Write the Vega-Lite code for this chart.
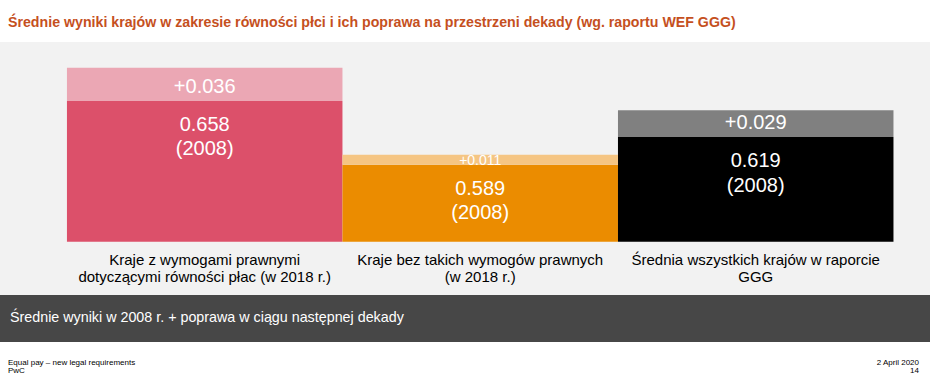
{
  "$schema": "https://vega.github.io/schema/vega-lite/v6.json",
  "background": "white",
  "padding": {"left": 0, "right": 0, "top": 15, "bottom": 0},
  "title": {
    "text": "Średnie wyniki krajów w zakresie równości płci i ich poprawa na przestrzeni dekady (wg. raportu WEF GGG)",
    "anchor": "start",
    "dx": 8,
    "offset": 12,
    "fontSize": 14.2,
    "fontWeight": "bold",
    "font": "Liberation Sans",
    "color": "#c5501e"
  },
  "spacing": 0,
  "vconcat": [
    {
      "width": 930,
      "height": 253,
      "view": {"fill": "#f2f2f2", "stroke": null},
      "data": {
        "values": [
          {"kraj": "Kraje z wymogami prawnymi\ndotyczącymi równości płac (w 2018 r.)", "wynik2008": 0.658, "poprawa": 0.036, "wynik2018": 0.694},
          {"kraj": "Kraje bez takich wymogów prawnych\n(w 2018 r.)", "wynik2008": 0.589, "poprawa": 0.011, "wynik2018": 0.600},
          {"kraj": "Średnia wszystkich krajów w raporcie\nGGG", "wynik2008": 0.619, "poprawa": 0.029, "wynik2018": 0.648}
        ]
      },
      "encoding": {
        "x": {
          "field": "kraj",
          "type": "nominal",
          "sort": null,
          "axis": null,
          "scale": {"paddingInner": 0, "paddingOuter": 0.1878, "align": 0.647}
        }
      },
      "layer": [
        {
          "mark": {"type": "bar"},
          "encoding": {
            "y": {
              "field": "wynik2008",
              "type": "quantitative",
              "scale": {"domain": [0.4484, 0.7217], "nice": false, "zero": false},
              "axis": {
                "title": "1.00 = pełna równość",
                "labels": false,
                "ticks": false,
                "domain": false,
                "grid": false,
                "minExtent": 0,
                "maxExtent": 0,
                "titleX": 20,
                "titleY": 114,
                "titleAngle": -90,
                "titleAlign": "center",
                "titleBaseline": "middle",
                "titleFontSize": 14,
                "titleFontWeight": "normal",
                "titleFont": "Liberation Sans",
                "titleColor": "#000000"
              }
            },
            "y2": {"datum": 0.506},
            "color": {
              "field": "kraj",
              "type": "nominal",
              "sort": null,
              "scale": {"range": ["#dc506a", "#eb8c00", "#000000"]},
              "legend": null
            }
          }
        },
        {
          "mark": {"type": "bar"},
          "encoding": {
            "y": {
              "field": "wynik2018",
              "type": "quantitative",
              "scale": {"domain": [0.4484, 0.7217], "nice": false, "zero": false},
              "axis": null
            },
            "y2": {"field": "wynik2008"},
            "fill": {
              "field": "kraj",
              "type": "nominal",
              "sort": null,
              "scale": {"range": ["#eba7b4", "#f5c583", "#808080"]},
              "legend": null
            }
          }
        },
        {
          "mark": {"type": "text", "baseline": "alphabetic", "dy": 30, "fontSize": 20, "color": "white", "font": "Liberation Sans"},
          "encoding": {
            "y": {"field": "wynik2008", "type": "quantitative", "scale": {"domain": [0.4484, 0.7217], "nice": false, "zero": false}, "axis": null},
            "text": {"field": "wynik2008", "type": "quantitative", "format": ".3f"}
          }
        },
        {
          "mark": {"type": "text", "baseline": "alphabetic", "dy": 54.5, "fontSize": 20, "color": "white", "font": "Liberation Sans"},
          "encoding": {
            "y": {"field": "wynik2008", "type": "quantitative", "scale": {"domain": [0.4484, 0.7217], "nice": false, "zero": false}, "axis": null},
            "text": {"value": "(2008)"}
          }
        },
        {
          "transform": [{"filter": "datum.poprawa >= 0.02"}],
          "mark": {"type": "text", "baseline": "alphabetic", "dy": -8, "fontSize": 20, "color": "white", "font": "Liberation Sans"},
          "encoding": {
            "y": {"field": "wynik2008", "type": "quantitative", "scale": {"domain": [0.4484, 0.7217], "nice": false, "zero": false}, "axis": null},
            "text": {"field": "poprawa", "type": "quantitative", "format": "+.3f"}
          }
        },
        {
          "transform": [{"filter": "datum.poprawa < 0.02"}],
          "mark": {"type": "text", "baseline": "alphabetic", "dy": 0, "fontSize": 14, "color": "white", "font": "Liberation Sans"},
          "encoding": {
            "y": {"field": "wynik2008", "type": "quantitative", "scale": {"domain": [0.4484, 0.7217], "nice": false, "zero": false}, "axis": null},
            "text": {"field": "poprawa", "type": "quantitative", "format": "+.3f"}
          }
        },
        {
          "mark": {"type": "text", "baseline": "alphabetic", "lineBreak": "\n", "lineHeight": 17, "fontSize": 15, "color": "#000000", "font": "Liberation Sans"},
          "encoding": {
            "y": {"datum": 0.4812, "type": "quantitative", "scale": {"domain": [0.4484, 0.7217], "nice": false, "zero": false}, "axis": null},
            "text": {"field": "kraj", "type": "nominal"}
          }
        }
      ]
    },
    {
      "width": 930,
      "height": 47,
      "view": {"fill": "#474747", "stroke": null},
      "data": {"values": [{"opis": "Średnie wyniki w 2008 r. + poprawa w ciągu następnej dekady"}]},
      "mark": {"type": "text", "align": "left", "baseline": "middle", "fontSize": 14.3, "color": "white", "font": "Liberation Sans"},
      "encoding": {
        "x": {"datum": 10, "type": "quantitative", "scale": {"domain": [0, 930], "nice": false, "zero": false}, "axis": null},
        "y": {"datum": 22.7, "type": "quantitative", "scale": {"domain": [0, 47], "reverse": true, "nice": false, "zero": false}, "axis": null},
        "text": {"field": "opis", "type": "nominal"}
      }
    },
    {
      "width": 930,
      "height": 43,
      "view": {"fill": "white", "stroke": null},
      "data": {"values": [{"lewa": "Equal pay – new legal requirements\nPwC", "prawa": "2 April 2020\n14"}]},
      "encoding": {
        "y": {"datum": 23, "type": "quantitative", "scale": {"domain": [0, 43], "reverse": true, "nice": false, "zero": false}, "axis": null}
      },
      "layer": [
        {
          "mark": {"type": "text", "align": "left", "baseline": "alphabetic", "lineBreak": "\n", "lineHeight": 8, "fontSize": 8, "color": "#000000", "font": "Liberation Sans"},
          "encoding": {
            "x": {"datum": 8, "type": "quantitative", "scale": {"domain": [0, 930], "nice": false, "zero": false}, "axis": null},
            "text": {"field": "lewa", "type": "nominal"}
          }
        },
        {
          "mark": {"type": "text", "align": "right", "baseline": "alphabetic", "lineBreak": "\n", "lineHeight": 8, "fontSize": 8, "color": "#000000", "font": "Liberation Sans"},
          "encoding": {
            "x": {"datum": 919, "type": "quantitative", "scale": {"domain": [0, 930], "nice": false, "zero": false}, "axis": null},
            "text": {"field": "prawa", "type": "nominal"}
          }
        }
      ]
    }
  ]
}
